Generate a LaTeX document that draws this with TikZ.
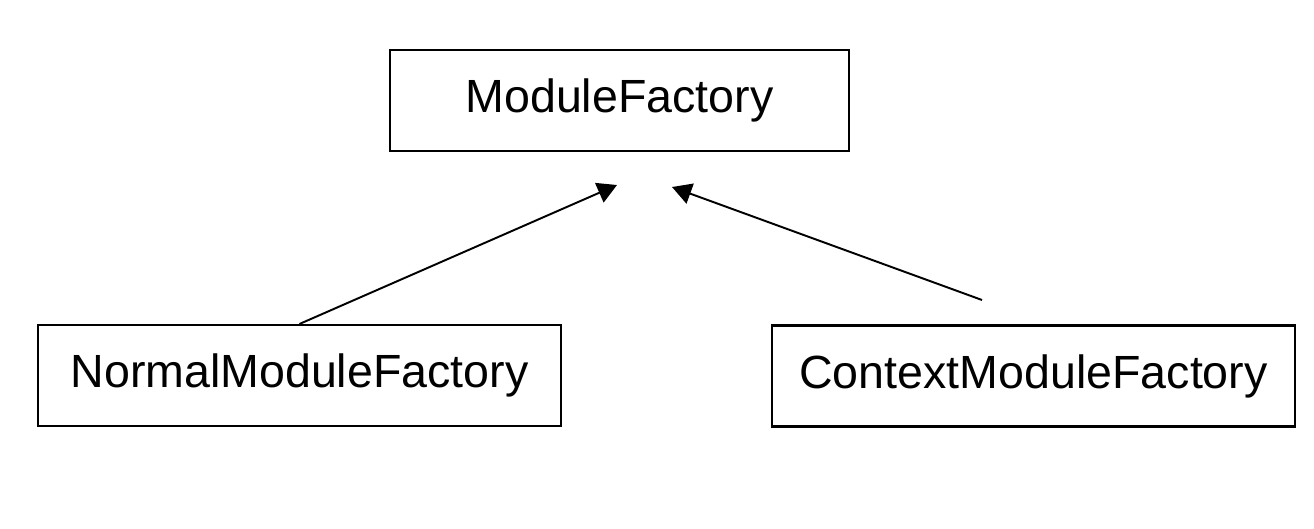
\documentclass[tikz,border=0pt]{standalone}
\usepackage{fontspec}
\setmainfont{Liberation Sans}
\usepackage{tikz}
\usetikzlibrary{arrows.meta,positioning}

\tikzset{
    classbox/.style={draw, line width=1.2pt, minimum width=9.18cm, minimum height=2.02cm, font=\fontsize{26.5}{30}\selectfont, inner sep=0pt},
    inherit/.style={line width=1.1pt, -{Triangle[length=11pt, width=12pt]}}
}

\begin{document}
\begin{tikzpicture}[x=0.02cm, y=-0.02cm]
            \useasboundingbox (0,0) rectangle (1314,528);
            % Classes
            \node[classbox] (base) at (619.5,100.5) {ModuleFactory};
            \node[classbox, minimum width=10.46cm] (normal) at (299.5,375.5) {NormalModuleFactory};
            \node[classbox, minimum width=10.46cm] (context) at (1033.5,376) {ContextModuleFactory};

            % Inheritance
            \coordinate (tipL) at (617,185);
            \coordinate (tipR) at (672,187);
            \coordinate (startR) at (982,300);
            \draw[inherit] (normal.north) -- (tipL);
            \draw[inherit] (startR) -- (tipR);
        \end{tikzpicture}
\end{document}
